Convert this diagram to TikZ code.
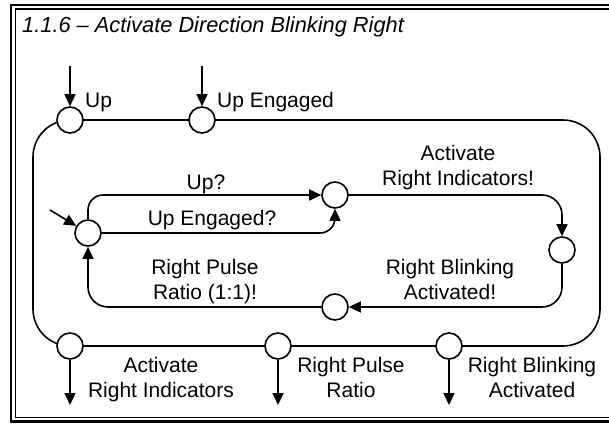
\documentclass[tikz,border=0pt]{standalone}
\usepackage{fontspec}
\setmainfont{Liberation Sans}
\usetikzlibrary{arrows.meta,backgrounds}
\begin{document}
\begin{tikzpicture}[x=1pt,y=-1pt,
  st/.style={circle,draw,fill=white,line width=1.6pt,minimum size=26pt,inner sep=0pt},
  wire/.style={line width=1.6pt},
  arr/.style={wire,-{Triangle[length=12pt,width=11pt]}},
  lbl/.style={font=\fontsize{21}{24.5}\selectfont,inner sep=0pt,align=center,anchor=base},
]
\useasboundingbox (0,0) rectangle (609,423);
\begin{scope}
\clip (0,0) rectangle (609,423);
\draw[line width=2.2pt] (11,5) rectangle (640,421.5);
\draw[line width=1.6pt] (15.5,9) rectangle (636,417.5);
\end{scope}
% title
\node[lbl,anchor=base west,font=\fontsize{21.8}{26}\selectfont\itshape] (title) at (22,32) {1.1.6 -- Activate Direction Blinking Right};
% outer interface states
\node[st] (up) at (70,120) {};
\node[st] (upe) at (202,120) {};
\node[st] (o1) at (70,346) {};
\node[st] (o2) at (278,346) {};
\node[st] (o3) at (449,346) {};
% inner states
\node[st] (c1) at (88,233) {};
\node[st] (c2) at (335,195) {};
\node[st] (c3) at (562,250) {};
\node[st] (c4) at (335,307) {};
% free ends
\coordinate (ui) at (70,66);
\coordinate (uei) at (202,66);
\coordinate (o1o) at (70,405);
\coordinate (o2o) at (278,405);
\coordinate (o3o) at (449,405);
\coordinate (init) at (50,210);
\coordinate (tl) at (33,120);
\coordinate (tr) at (600,120);
\coordinate (br) at (600,346);
\coordinate (bl) at (33,346);
% outer loop through the interface states
\begin{scope}[on background layer]
\draw[wire,rounded corners=37pt] (upe.center) -- (tr) -- (br) -- (bl) -- (tl) -- cycle;
\end{scope}
% in/out arrows
\draw[arr] (ui) -- (up);
\draw[arr] (uei) -- (upe);
\draw[arr] (o1) -- (o1o);
\draw[arr] (o2) -- (o2o);
\draw[arr] (o3) -- (o3o);
\draw[arr] (init) -- (c1);
% inner transitions
\draw[arr,rounded corners=15pt] (c1.north) |- (c2.west);
\draw[arr,rounded corners=15pt] (c1.east) -| (c2.south);
\draw[arr,rounded corners=20pt] (c2.east) -| (c3.north);
\draw[arr,rounded corners=20pt] (c3.south) |- (c4.east);
\draw[arr,rounded corners=20pt] (c4.west) -| (c1.south);
% labels (base = baseline of the last line)
\node[lbl,anchor=base west] (lup) at (85,107) {Up};
\node[lbl,anchor=base west] (lupe) at (217,107) {Up Engaged};
\node[lbl] (l1) at (206,189) {Up?};
\node[lbl] (l2) at (212,225) {Up Engaged?};
\node[lbl] (l3) at (458,185) {Activate\\Right Indicators!};
\node[lbl] (l4) at (205,299) {Right Pulse\\Ratio (1:1)!};
\node[lbl] (l5) at (450,299) {Right Blinking\\Activated!};
\node[lbl] (l6) at (161,397) {Activate\\Right Indicators};
\node[lbl] (l7) at (351,397) {Right Pulse\\Ratio};
\node[lbl] (l8) at (532,397) {Right Blinking\\Activated};
\end{tikzpicture}
\end{document}
